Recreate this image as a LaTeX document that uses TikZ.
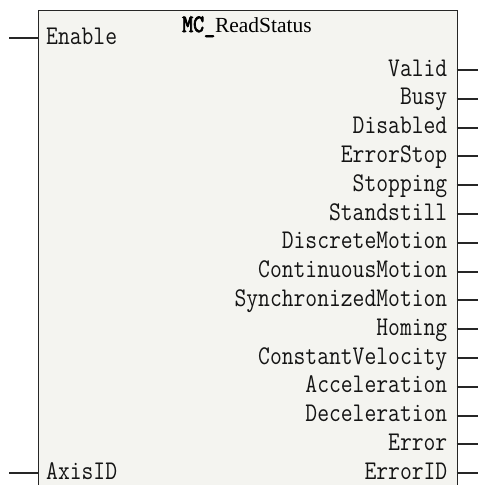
\documentclass[tikz,border=0pt]{standalone}
\usepackage{fontspec}
\usepackage{xcolor}
\usepackage{tikz}
\usetikzlibrary{positioning}
\setmainfont{Liberation Serif}
\newfontfamily\pinfont[FakeStretch=0.85]{Latin Modern Mono}
\newfontfamily\titlemono[FakeStretch=0.85,FakeBold=3]{Latin Modern Mono}
\definecolor{fbfill}{HTML}{F4F4F0}
\definecolor{fbline}{HTML}{262626}
\definecolor{fbtext}{HTML}{141414}

\begin{document}
\begin{tikzpicture}[
  x=1pt,y=-1pt,
  fbbox/.style={draw=fbline,fill=fbfill,line width=1.9pt,minimum width=419pt,minimum height=490pt,inner sep=0pt},
  inpin/.style={anchor=west,inner xsep=8.5pt,inner ysep=0pt,text height=15pt,text depth=3pt,font=\pinfont\fontsize{27}{30}\selectfont,text=fbtext},
  outpin/.style={anchor=east,inner xsep=9pt,inner ysep=0pt,text height=15pt,text depth=3pt,font=\pinfont\fontsize{27}{30}\selectfont,text=fbtext},
  fbtitle/.style={anchor=base,inner sep=0pt,font=\fontsize{21.5}{24}\selectfont,text=black},
  pin/.style={draw=fbline,line width=1.9pt}
]
\useasboundingbox (0,0) rectangle (478,485);
\node[fbbox,anchor=north west] (fb) at (37.5,9.5) {};
\node[fbtitle] (title) at (247,32) {{\titlemono\fontsize{25}{26}\selectfont MC\_}ReadStatus};

% inputs
\node[inpin] (enable) at (37.5,38) {Enable};
\node[inpin] (axisid) at (37.5,473) {AxisID};
\coordinate (enable-in) at (9,38);
\coordinate (axisid-in) at (9,473);
\draw[pin] (enable-in) -- (enable.west);
\draw[pin] (axisid-in) -- (axisid.west);

% outputs
\node[outpin] (valid) at (456.5,70) {Valid};
\node[outpin] (busy) at (456.5,98.8) {Busy};
\node[outpin] (disabled) at (456.5,127.6) {Disabled};
\node[outpin] (errorstop) at (456.5,156.4) {ErrorStop};
\node[outpin] (stopping) at (456.5,185.2) {Stopping};
\node[outpin] (standstill) at (456.5,214) {Standstill};
\node[outpin] (discrete) at (456.5,242.8) {DiscreteMotion};
\node[outpin] (continuous) at (456.5,271.6) {ContinuousMotion};
\node[outpin] (synchronized) at (456.5,300.4) {SynchronizedMotion};
\node[outpin] (homing) at (456.5,329.2) {Homing};
\node[outpin] (constvel) at (456.5,358) {ConstantVelocity};
\node[outpin] (accel) at (456.5,386.8) {Acceleration};
\node[outpin] (decel) at (456.5,415.6) {Deceleration};
\node[outpin] (error) at (456.5,444.4) {Error};
\node[outpin] (errorid) at (456.5,473.2) {ErrorID};

\foreach \p in {valid,busy,disabled,errorstop,stopping,standstill,discrete,continuous,synchronized,homing,constvel,accel,decel,error,errorid}
  \draw[pin] (\p.east) -- ++(22,0) coordinate (\p-out);
\end{tikzpicture}
\end{document}
